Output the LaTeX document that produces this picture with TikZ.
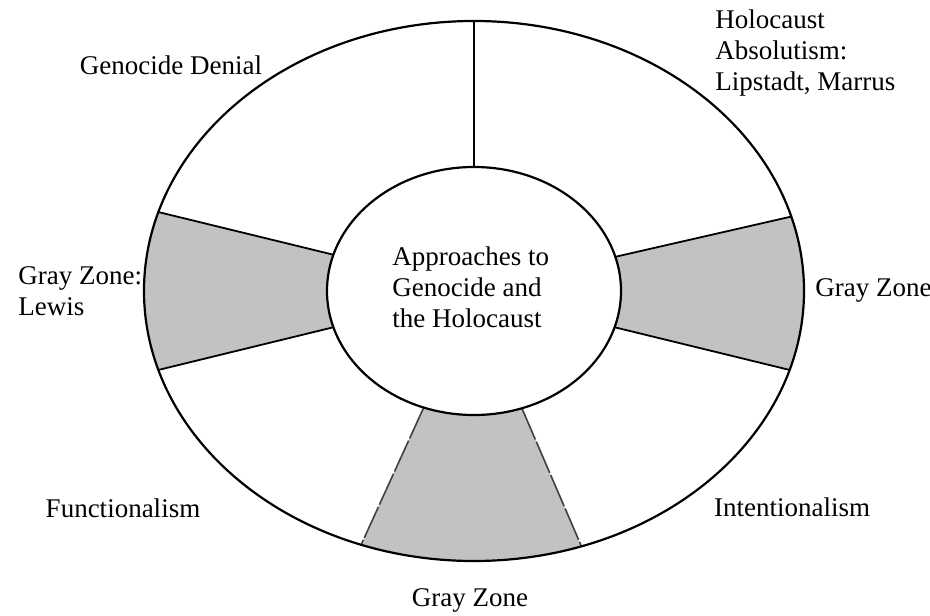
\documentclass[tikz,border=0pt]{standalone}
\usepackage{fontspec}
\setmainfont{Liberation Serif}
\definecolor{zonegray}{gray}{0.76}
\newcommand{\rim}[0]{330 and 270}
\newcommand{\hub}[0]{147 and 124}
\newcommand{\zone}[2]{\fill[zonegray] (#1:\rim)
	arc[start angle=#1, end angle=#2, x radius=330, y radius=270] -- (#2:\hub)
	arc[start angle=#2, end angle=#1, x radius=147, y radius=124] -- cycle}
\newcommand{\spoke}[2]{\draw[#2] (#1:\hub) -- (#1:\rim)}
\newcommand{\word}[0]{\fontsize{13.5}{15.5}\selectfont}

\begin{document}
\begin{tikzpicture}[x=1pt, y=1pt, scale = 1/2,
	tag/.style = {inner sep=0, align=left, font=\word},
	broken/.style = {line width=0.8pt, black!75, dash pattern=on 17pt off 1.2pt}]
\useasboundingbox (-474,-324) rectangle (456,291);
%Gray zones
	\zone{163}{197};
	\zone{-17}{16};
	\zone{250}{289};
%Spokes
	\spoke{90}{line width=0.7pt};
	\spoke{163}{line width=0.9pt};
	\spoke{197}{line width=0.9pt};
	\spoke{16}{line width=0.9pt};
	\spoke{-17}{line width=0.9pt};
	\spoke{250}{broken};
	\spoke{289}{broken};
%Rims
	\draw[line width=1.1pt] (0,0) ellipse [x radius=330, y radius=270];
	\draw[line width=1.1pt, fill=white] (0,0) ellipse [x radius=147, y radius=124];
%Labels
	\node[tag, anchor=west] (core) at (-82,4) {Approaches to\\Genocide and\\the Holocaust};
	\node[tag] (denial) at (-303,226) {Genocide Denial};
	\node[tag, anchor=west] (absolutism) at (241,238) {Holocaust\\Absolutism:\\Lipstadt, Marrus};
	\node[tag, anchor=west] (grayright) at (341,1) {Gray Zone};
	\node[tag, anchor=west] (grayleft) at (-456,0) {Gray Zone:\\Lewis};
	\node[tag] (functional) at (-351,-217) {Functionalism};
	\node[tag] (intentional) at (318,-216) {Intentionalism};
	\node[tag] (grayunder) at (-4,-309) {Gray Zone};
\end{tikzpicture}
\end{document}
